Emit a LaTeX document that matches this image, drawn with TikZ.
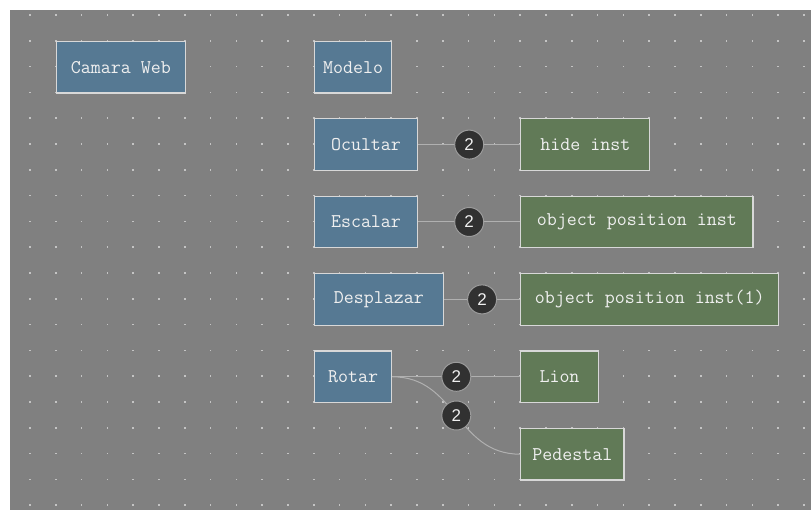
\documentclass[tikz,border=0pt]{standalone}
\usepackage{fontspec}
\newfontfamily\numfont{Liberation Sans}

\definecolor{fondo}{HTML}{808080}
\definecolor{punto}{HTML}{C4C4C4}
\definecolor{azulcaja}{HTML}{567993}
\definecolor{verdecaja}{HTML}{617A57}
\definecolor{borde}{HTML}{D8D8D8}
\definecolor{linea}{HTML}{B0B0B0}
\definecolor{circulo}{HTML}{313131}
\definecolor{bordecirculo}{HTML}{9C9C9C}
\definecolor{texto}{HTML}{F0F0F0}

\begin{document}
\begin{tikzpicture}[x=1pt, y=-1pt,
    caja/.style={draw=borde, line width=1.2pt, text=texto, inner sep=0pt,
        anchor=north west, minimum height=51.6pt,
        font=\ttfamily\fontsize{19.4}{22}\selectfont},
    azul/.style={caja, fill=azulcaja},
    verde/.style={caja, fill=verdecaja},
    enlace/.style={draw=linea, line width=1pt},
    contador/.style={circle, fill=circulo, draw=bordecirculo, line width=1pt,
        minimum size=29pt, inner sep=0pt, text=texto,
        font=\numfont\fontsize{17}{20}\selectfont}]

    % Fondo y rejilla
    \useasboundingbox (0,0) rectangle (811,510);
    \fill[white] (0,0) rectangle (811,510);
    \fill[fondo] (10,10) rectangle (811,510);
    \foreach \i in {0,...,30}
        \foreach \j in {0,...,19}
            \fill[punto] ({30+25.8*\i-0.8},{15+25.8*\j-0.8}) rectangle +(1.6,1.6);

    % Nodos de control
    \node[azul, minimum width=129pt] (camara) at (55.8,40.8) {Camara Web};
    \node[azul, minimum width=77.4pt] (modelo) at (313.8,40.8) {Modelo};
    \node[azul, minimum width=103.2pt] (ocultar) at (313.8,118.2) {Ocultar};
    \node[azul, minimum width=103.2pt] (escalar) at (313.8,195.6) {Escalar};
    \node[azul, minimum width=129pt] (desplazar) at (313.8,273) {Desplazar};
    \node[azul, minimum width=77.4pt] (rotar) at (313.8,350.4) {Rotar};

    % Nodos de objeto
    \node[verde, minimum width=129pt] (hide) at (520.2,118.2) {hide inst};
    \node[verde, minimum width=232.2pt] (posicion) at (520.2,195.6) {object position inst};
    \node[verde, minimum width=258pt] (posicion1) at (520.2,273) {object position inst(1)};
    \node[verde, minimum width=77.4pt] (lion) at (520.2,350.4) {Lion};
    \node[verde, minimum width=103.2pt] (pedestal) at (520.2,427.8) {Pedestal};

    % Enlaces
    \draw[enlace] (ocultar) -- node[contador] (n1) {2} (hide);
    \draw[enlace] (escalar) -- node[contador] (n2) {2} (posicion);
    \draw[enlace] (desplazar) -- node[contador] (n3) {2} (posicion1);
    \draw[enlace] (rotar) -- node[contador] (n4) {2} (lion);
    \draw[enlace] (rotar.east) .. controls +(64.5,0) and +(-64.5,0) .. (pedestal.west)
        node[contador, midway] (n5) {2};
\end{tikzpicture}
\end{document}
